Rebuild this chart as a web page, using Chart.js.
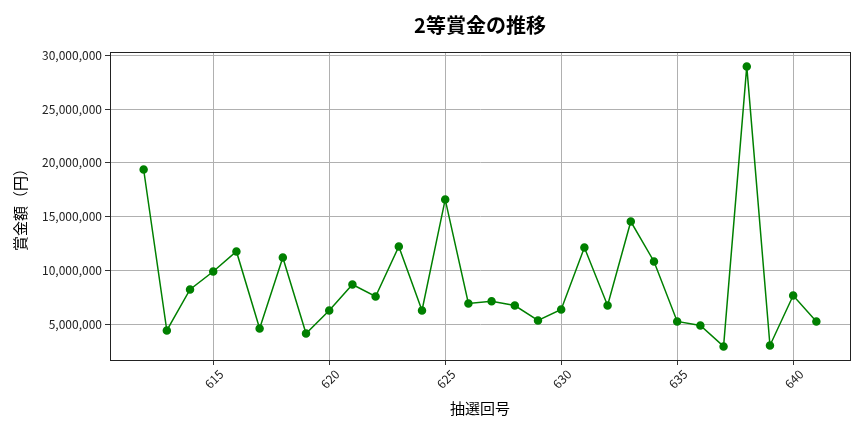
<!DOCTYPE html>
<html lang="ja">
<head>
    <meta charset="UTF-8">
    <title>2等賞金の推移</title>
    <script src="https://cdn.jsdelivr.net/npm/chart.js"></script>
    <style>
        html, body { margin: 0; padding: 0; background: #fff; }
        #wrap { width: 864px; height: 432px; }
    </style>
</head>
<body>
<div id="wrap"><canvas id="grafico"></canvas></div>
<script>
    // 抽選回と2等賞金（円）
    const kaisu = [612, 613, 614, 615, 616, 617, 618, 619, 620, 621, 622, 623, 624, 625, 626,
                   627, 628, 629, 630, 631, 632, 633, 634, 635, 636, 637, 638, 639, 640, 641];
    const shokin = [19390000, 4440000, 8250000, 9920000, 11780000, 4630000, 11220000, 4160000,
                    6300000, 8710000, 7600000, 12240000, 6300000, 16610000, 6950000,
                    7160000, 6760000, 5370000, 6390000, 12150000, 6760000, 14560000, 10850000,
                    5280000, 4910000, 2960000, 28960000, 3050000, 7690000, 5280000];
    const xTicks = [615, 620, 625, 630, 635, 640];
    const yTicks = [5000000, 10000000, 15000000, 20000000, 25000000, 30000000];

    const fonte = '"Noto Sans CJK JP", "Noto Sans", sans-serif';

    const bordaPlot = {
        id: 'bordaPlot',
        afterDraw(chart) {
            const a = chart.chartArea;
            const ctx = chart.ctx;
            ctx.save();
            ctx.strokeStyle = '#222';
            ctx.lineWidth = 1;
            ctx.strokeRect(a.left + 0.5, a.top + 0.5, a.right - a.left, a.bottom - a.top);
            ctx.restore();
        }
    };

    new Chart(document.getElementById('grafico'), {
        type: 'line',
        data: {
            datasets: [{
                data: kaisu.map((k, i) => ({ x: k, y: shokin[i] })),
                borderColor: '#008000',
                backgroundColor: '#008000',
                borderWidth: 1.5,
                pointRadius: 3.5,
                pointHoverRadius: 3.5,
                tension: 0
            }]
        },
        options: {
            responsive: true,
            maintainAspectRatio: false,
            animation: false,
            layout: { padding: { left: 0, right: 14, top: 0, bottom: 0 } },
            plugins: {
                legend: { display: false },
                tooltip: { enabled: false },
                title: {
                    display: true,
                    fullSize: false,
                    text: '2等賞金の推移',
                    color: '#000',
                    font: { family: fonte, size: 20, weight: 'bold' },
                    padding: { top: 13, bottom: 15 }
                }
            },
            scales: {
                x: {
                    type: 'linear',
                    min: 610.55,
                    max: 642.45,
                    afterBuildTicks: s => { s.ticks = xTicks.map(v => ({ value: v })); },
                    afterFit: s => { s.height = 72; },
                    grid: { color: '#b0b0b0', lineWidth: 1, tickLength: 5, tickColor: '#333' },
                    border: { color: '#222' },
                    ticks: {
                        color: '#222',
                        font: { family: fonte, size: 12 },
                        minRotation: 45,
                        maxRotation: 45,
                        labelOffset: 8,
                        padding: 2,
                        callback: v => String(v)
                    },
                    title: {
                        display: true,
                        text: '抽選回号',
                        color: '#000',
                        font: { family: fonte, size: 15 },
                        padding: { top: 0, bottom: 15 }
                    }
                },
                y: {
                    min: 1700000,
                    max: 30300000,
                    afterBuildTicks: s => { s.ticks = yTicks.map(v => ({ value: v })); },
                    afterFit: s => { s.width = 110; },
                    grid: { color: '#b0b0b0', lineWidth: 1, tickLength: 5, tickColor: '#333' },
                    border: { color: '#222' },
                    ticks: {
                        color: '#222',
                        font: { family: fonte, size: 12 },
                        padding: 3,
                        callback: v => v.toLocaleString('en-US')
                    },
                    title: {
                        display: true,
                        text: '賞金額（円）',
                        color: '#000',
                        font: { family: fonte, size: 15 },
                        padding: { top: 11, bottom: 0 }
                    }
                }
            }
        },
        plugins: [bordaPlot]
    });
</script>
</body>
</html>
